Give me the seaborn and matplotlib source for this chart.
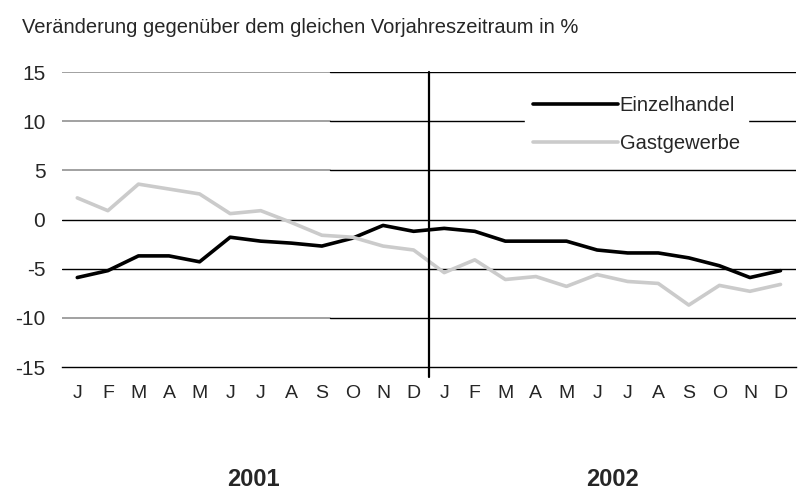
import numpy as np
import pandas as pd
import matplotlib
matplotlib.use("Agg")
import matplotlib.pyplot as plt
import seaborn as sns

# month labels, two years
months = ["J", "F", "M", "A", "M", "J", "J", "A", "S", "O", "N", "D"] * 2
years = ["2001", "2002"]

# change vs. same period of previous year, in %
einzelhandel = [-5.9, -5.2, -3.7, -3.7, -4.3, -1.8, -2.2, -2.4, -2.7, -1.9, -0.6, -1.2,
                -0.9, -1.2, -2.2, -2.2, -2.2, -3.1, -3.4, -3.4, -3.9, -4.7, -5.9, -5.2]
gastgewerbe = [2.2, 0.9, 3.6, 3.1, 2.6, 0.6, 0.9, -0.3, -1.6, -1.8, -2.7, -3.1,
               -5.4, -4.1, -6.1, -5.8, -6.8, -5.6, -6.3, -6.5, -8.7, -6.7, -7.3, -6.6]

df = pd.DataFrame({
    "idx": list(range(24)) * 2,
    "wert": einzelhandel + gastgewerbe,
    "reihe": ["Einzelhandel"] * 24 + ["Gastgewerbe"] * 24,
})

sns.set_theme(style="white")
plt.rcParams["font.family"] = ["Liberation Sans", "DejaVu Sans"]

fig = plt.figure(figsize=(7.99, 4.90), dpi=100)
ax = fig.add_axes([0.0776, 0.251, 0.9184, 0.602])

# grid lines (scan makes left part look grey)
for y in [15, 10, 5, -10]:
    ax.axhline(y, xmin=0, xmax=0.365, color="#9a9a9a", lw=1.3, zorder=1)
    ax.axhline(y, xmin=0.365, xmax=1, color="black", lw=1.0, zorder=1)
for y in [0, -5]:
    ax.axhline(y, color="black", lw=1.0, zorder=1)

sns.lineplot(data=df, x="idx", y="wert", hue="reihe",
             palette={"Einzelhandel": "black", "Gastgewerbe": "#cbcbcb"},
             linewidth=2.6, ax=ax, zorder=3)

ax.set_xlim(-0.5, 23.5)
ax.set_ylim(-15, 15)
ax.set_yticks([15, 10, 5, 0, -5, -10, -15])
ax.set_yticklabels(["15", "10", "5", "0", "-5", "-10", "-15"], fontsize=15)
ax.set_xticks(range(24))
ax.set_xticklabels(months, fontsize=14)
ax.set_xticks(np.arange(-0.5, 24, 1), minor=True)
ax.tick_params(axis="x", which="major", length=0, pad=13)
ax.tick_params(axis="x", which="minor", length=6, width=1, color="black", direction="out")
ax.tick_params(axis="y", length=0, pad=12)
ax.set_xlabel("")
ax.set_ylabel("")

for s in ["top", "right", "left"]:
    ax.spines[s].set_visible(False)
ax.spines["bottom"].set_color("black")
ax.spines["bottom"].set_linewidth(1.0)

# separator between years
ax.plot([11.5, 11.5], [15, -16], color="black", lw=1.6, clip_on=False, zorder=4)

leg = ax.legend(loc="upper left", bbox_to_anchor=(0.657, 0.82),
                bbox_transform=fig.transFigure, frameon=True,
                fontsize=14.5, handlelength=4.2, handletextpad=0.1,
                labelspacing=0.93, borderaxespad=0)
leg.get_frame().set_facecolor("white")
leg.get_frame().set_edgecolor("white")
leg.get_frame().set_alpha(1)
for h in leg.get_lines():
    h.set_linewidth(2.6)

fig.text(0.028, 0.943, "Veränderung gegenüber dem gleichen Vorjahreszeitraum in %",
         fontsize=14.5, ha="left", va="center")
for i, yr in enumerate(years):
    fig.text(0.317 + i * 0.449, 0.022, yr, fontsize=17, fontweight="bold",
             ha="center", va="center")

fig.savefig("out.png", dpi=100)
